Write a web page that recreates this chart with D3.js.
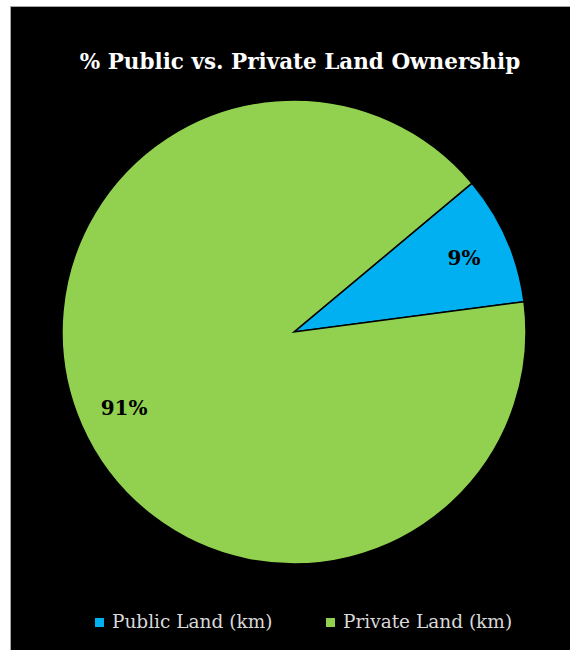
<!DOCTYPE html>
<html>
<head>
<meta charset="utf-8">
<script src="https://cdn.jsdelivr.net/npm/d3@7"></script>
<style>
  html, body { margin: 0; padding: 0; background: #ffffff; }
  svg { display: block; }
</style>
</head>
<body>
<script>
// Land ownership shares
const categories = ["Public Land (km)", "Private Land (km)"];
const shares = [9, 91];
const labels = ["9%", "91%"];
const colors = ["#00B0F0", "#92D050"];
const title = "% Public vs. Private Land Ownership";

const W = 570, H = 650;
const svg = d3.select("body").append("svg").attr("width", W).attr("height", H);

// chart area panel
svg.append("rect").attr("x", 10.5).attr("y", 6.5).attr("width", W).attr("height", H)
  .attr("fill", "#000").attr("stroke", "#a6a6a6").attr("stroke-width", 1);

svg.append("text")
  .attr("x", 300).attr("y", 69)
  .attr("text-anchor", "middle")
  .attr("fill", "#ffffff")
  .attr("font-family", "'DejaVu Serif', serif")
  .attr("font-weight", "bold")
  .attr("font-size", 21.5)
  .text(title);

const cx = 294, cy = 332, r = 232;
const start = 50.1 * Math.PI / 180;
const pie = d3.pie().sort(null).startAngle(start).endAngle(start + 2 * Math.PI);
const arc = d3.arc().innerRadius(0).outerRadius(r);
const labelArc = d3.arc().innerRadius(r * 0.8).outerRadius(r * 0.8);
const color = d3.scaleOrdinal().domain(categories).range(colors);

const g = svg.append("g").attr("transform", `translate(${cx},${cy})`);
const arcs = pie(shares);

g.selectAll("path").data(arcs).join("path")
  .attr("d", arc)
  .attr("fill", (d, i) => color(categories[i]))
  .attr("stroke", "#000")
  .attr("stroke-width", 1.5);

g.selectAll("text.lbl").data(arcs).join("text")
  .attr("class", "lbl")
  .attr("transform", d => `translate(${labelArc.centroid(d)})`)
  .attr("text-anchor", "middle")
  .attr("dy", "0.4em")
  .attr("fill", "#000")
  .attr("font-family", "'DejaVu Serif', serif")
  .attr("font-weight", "bold")
  .attr("font-size", 20)
  .text((d, i) => labels[i]);

// legend
const legend = svg.append("g");
const legendX = [95, 326];
categories.forEach((c, i) => {
  const lg = legend.append("g").attr("transform", `translate(${legendX[i]},618)`);
  lg.append("rect").attr("width", 9).attr("height", 9).attr("fill", color(c));
  lg.append("text").attr("x", 17).attr("y", 10)
    .attr("fill", "#d9d9d9")
    .attr("font-family", "'DejaVu Serif', serif")
    .attr("font-size", 18.5)
    .text(c);
});
</script>
</body>
</html>
